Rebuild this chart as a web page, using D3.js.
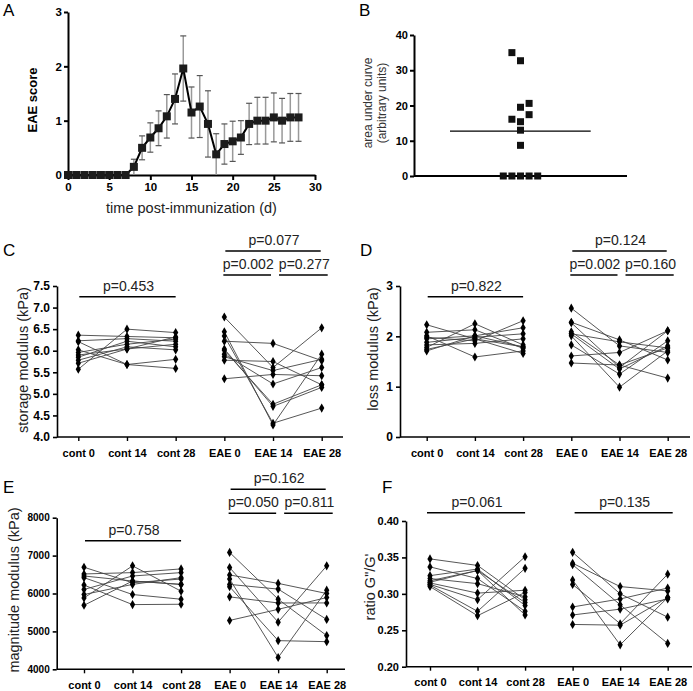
<!DOCTYPE html>
<html>
<head>
<meta charset="utf-8">
<script src="https://cdn.jsdelivr.net/npm/d3@7"></script>
<style>
  body { margin: 0; background: #fff; }
  text { font-family: "Liberation Sans", Arial, sans-serif; }
</style>
</head>
<body>
<svg id="fig" width="693" height="691"></svg>
<script>
// ---- panel A: clinical score over time ----
const days = [0,1,2,3,4,5,6,7,8,9,10,11,12,13,14,15,16,17,18,19,20,21,22,23,24,25,26,27,28]
const eaeScore = [0,0,0,0,0,0,0,0,0.15,0.50,0.69,0.86,1.08,1.40,1.96,1.15,1.26,0.94,0.38,0.57,0.62,0.69,0.94,1.00,1.00,1.06,1.00,1.06,1.06]
const eaeSem = [0,0,0,0,0,0,0,0,0.14,0.22,0.27,0.32,0.40,0.46,0.60,0.47,0.57,0.61,0.38,0.37,0.37,0.31,0.38,0.43,0.43,0.45,0.41,0.44,0.44]

// ---- panel B: area under curve, one value per mouse ----
const aucValues = [35.0,32.7,20.6,19.5,17.4,16.1,15.4,13.0,8.7,0,0,0,0,0]
const aucSlot = [-1,0,1,0,1,-1,0,0,0,-2,-1,0,1,2]

// ---- panels C-F: paired values per mouse (day 0, 14, 28) ----
const groups = ["cont 0","cont 14","cont 28","EAE 0","EAE 14","EAE 28"]

const storageCont = [[6.36,6.33,6.30],[5.57,6.50,6.42],[6.21,5.68,5.80],[6.02,5.68,5.59],[6.23,6.28,6.22],
                     [5.96,6.15,6.27],[5.90,6.04,6.15],[5.85,6.22,6.09],[5.78,6.09,6.02],[5.71,6.04,6.32]]
const storageEae = [[6.78,5.61,6.53],[6.22,6.17,5.77],[5.35,5.45,5.42],[6.44,4.28,5.92],[6.34,4.32,4.67],
                    [6.04,4.71,5.15],[6.01,4.76,5.21],[5.92,5.23,5.61],[5.86,5.54,5.80],[5.78,5.75,5.21]]
const storageP = ["p=0.453","p=0.077","p=0.002","p=0.277"]

const lossCont = [[2.23,1.95,1.79],[1.78,2.25,1.83],[2.01,1.59,1.71],[2.08,2.13,1.76],[1.98,1.91,2.31],
                  [1.95,2.01,2.17],[1.88,1.98,2.05],[1.83,1.86,1.95],[1.74,1.95,1.66],[1.71,2.01,1.79]]
const lossEae = [[2.56,1.81,1.68],[2.28,1.93,1.53],[2.27,1.38,2.11],[2.09,1.43,1.77],[2.05,1.35,1.81],
                 [2.01,0.99,1.71],[1.83,1.25,1.91],[1.61,1.68,2.11],[1.47,1.43,1.17],[2.05,1.89,1.77]]
const lossP = ["p=0.822","p=0.124","p=0.002","p=0.160"]

const magCont = [[6693,6284,6382],[6516,6551,6649],[6462,6329,6240],[6418,5973,5849],[6222,5707,5716],
                 [6107,6462,6551],[5973,6240,6418],[5884,6729,6062],[5689,6329,6240]]
const magEae = [[7084,5849,4889],[6684,5244,6729],[6489,6267,6000],[6382,4311,6089],[6240,6116,5316],
                [6178,4756,4729],[5911,5750,5751],[5289,5582,5893]]
const magP = ["p=0.758","p=0.162","p=0.050","p=0.811"]

const ratioCont = [[0.348,0.339,0.292],[0.337,0.321,0.276],[0.325,0.334,0.284],[0.321,0.314,0.296],[0.318,0.332,0.271],
                   [0.315,0.301,0.305],[0.313,0.292,0.351],[0.310,0.270,0.302],[0.312,0.276,0.335],[0.316,0.332,0.288]]
const ratioEae = [[0.357,0.300,0.268],[0.342,0.310,0.304],[0.340,0.285,0.232],[0.319,0.230,0.295],
                  [0.313,0.259,0.327],[0.282,0.293,0.308],[0.271,0.279,0.293],[0.258,0.257,0.295]]
const ratioP = ["p=0.061","p=0.135"]

const svg = d3.select("#fig")

function styleAxis(g, w) {
  g.selectAll("path, line").attr("stroke", "#000").attr("stroke-width", w)
}

function letter(txt, x, y) {
  svg.append("text").attr("x", x).attr("y", y).attr("font-size", 17).text(txt)
}

// ================= A =================
{
  let x = d3.scaleLinear().domain([0, 30]).range([68, 315])
  let y = d3.scaleLinear().domain([0, 3]).range([175, 12])
  let g = svg.append("g")

  g.append("g").attr("transform", "translate(0,175)")
    .call(d3.axisBottom(x).tickValues([0,5,10,15,20,25,30]).tickSize(5).tickPadding(3).tickSizeOuter(0))
    .call(a => styleAxis(a, 2))
    .selectAll("text").attr("font-size", 11.5).attr("font-weight", "bold").attr("fill", "#000")
  g.append("g").attr("transform", "translate(68,0)")
    .call(d3.axisLeft(y).ticks(3).tickSize(4).tickPadding(2).tickSizeOuter(0))
    .call(a => styleAxis(a, 2))
    .selectAll("text").attr("font-size", 11.5).attr("font-weight", "bold").attr("fill", "#000")

  let pts = days.map((d, i) => ({ d: d, v: eaeScore[i], e: eaeSem[i] }))
  let withErr = pts.filter(p => p.e > 0)

  // error bars
  g.selectAll(".eb").data(withErr).enter().append("line")
    .attr("x1", p => x(p.d)).attr("x2", p => x(p.d))
    .attr("y1", p => y(Math.max(0, p.v - p.e))).attr("y2", p => y(p.v + p.e))
    .attr("stroke", "#999").attr("stroke-width", 1.5)
  g.selectAll(".capT").data(withErr).enter().append("line")
    .attr("x1", p => x(p.d) - 3).attr("x2", p => x(p.d) + 3)
    .attr("y1", p => y(p.v + p.e)).attr("y2", p => y(p.v + p.e))
    .attr("stroke", "#555").attr("stroke-width", 1.2)
  g.selectAll(".capB").data(withErr.filter(p => p.v - p.e > 0.02)).enter().append("line")
    .attr("x1", p => x(p.d) - 3).attr("x2", p => x(p.d) + 3)
    .attr("y1", p => y(p.v - p.e)).attr("y2", p => y(p.v - p.e))
    .attr("stroke", "#555").attr("stroke-width", 1.2)

  g.append("path").datum(pts)
    .attr("d", d3.line().x(p => x(p.d)).y(p => y(p.v)))
    .attr("fill", "none").attr("stroke", "#000").attr("stroke-width", 2)

  g.selectAll(".sq").data(pts).enter().append("rect")
    .attr("x", p => x(p.d) - 4).attr("y", p => y(p.v) - 4)
    .attr("width", 8).attr("height", 8).attr("fill", "#1c1c1c")

  g.append("text").attr("transform", "translate(37,100) rotate(-90)")
    .attr("text-anchor", "middle").attr("font-size", 13).attr("font-weight", "bold")
    .text("EAE score")
  g.append("text").attr("x", 191.5).attr("y", 213).attr("text-anchor", "middle")
    .attr("font-size", 14.5).attr("fill", "#222").text("time post-immunization (d)")
  letter("A", 3, 16)
}

// ================= B =================
{
  let y = d3.scaleLinear().domain([0, 40]).range([176, 35])
  let x = d3.scaleLinear().domain([-2, 2]).range([503.3, 537.7])
  let g = svg.append("g")

  g.append("line").attr("x1", 414).attr("x2", 627).attr("y1", 176).attr("y2", 176)
    .attr("stroke", "#000").attr("stroke-width", 2)
  g.append("g").attr("transform", "translate(414,0)")
    .call(d3.axisLeft(y).tickValues([0,10,20,30,40]).tickSize(4).tickPadding(2).tickSizeOuter(0))
    .call(a => styleAxis(a, 2))
    .selectAll("text").attr("font-size", 11).attr("font-weight", "bold").attr("fill", "#000")

  let m = d3.mean(aucValues)
  g.append("line").attr("x1", 450).attr("x2", 590.7).attr("y1", y(m)).attr("y2", y(m))
    .attr("stroke", "#000").attr("stroke-width", 1.3)

  g.selectAll(".pt").data(aucValues).enter().append("rect")
    .attr("x", (v, i) => x(aucSlot[i]) - 3.5).attr("y", v => y(v) - 3.5)
    .attr("width", 7).attr("height", 7).attr("fill", "#111")

  g.append("text").attr("transform", "translate(372,103) rotate(-90)")
    .attr("text-anchor", "middle").attr("font-size", 12).attr("fill", "#333").text("area under curve")
  g.append("text").attr("transform", "translate(386,103) rotate(-90)")
    .attr("text-anchor", "middle").attr("font-size", 12).attr("fill", "#333").text("(arbitrary units)")
  letter("B", 359, 16)
}

// ================= C-F paired panels =================
function paired(cfg) {
  let g = svg.append("g")
  let y = d3.scaleLinear().domain(cfg.domain).range([cfg.bottom, cfg.top])
  let x = d3.scalePoint().domain(groups).range([cfg.cat0, cfg.cat5])

  // axes
  g.append("line").attr("x1", cfg.x0).attr("x2", cfg.right).attr("y1", cfg.bottom).attr("y2", cfg.bottom)
    .attr("stroke", "#000").attr("stroke-width", 1.6)
  let xa = g.append("g").attr("transform", "translate(0," + cfg.bottom + ")")
    .call(d3.axisBottom(x).tickSize(4).tickPadding(8).tickSizeOuter(0))
    .call(a => styleAxis(a, 1.4))
  xa.select(".domain").remove()
  xa.selectAll("text").attr("font-size", 11).attr("font-weight", "bold").attr("fill", "#000")

  g.append("g").attr("transform", "translate(" + cfg.x0 + ",0)")
    .call(d3.axisLeft(y).tickValues(cfg.ticks).tickFormat(d3.format(cfg.fmt)).tickSize(4).tickPadding(3).tickSizeOuter(0))
    .call(a => styleAxis(a, 1.6))
    .selectAll("text").attr("font-size", cfg.tickFont).attr("font-weight", "bold").attr("fill", "#000")

  // paired lines + points
  let sets = [[cfg.cont, 0], [cfg.eae, 3]]
  sets.forEach(([rows, off]) => {
    rows.forEach(r => {
      let pts = r.map((v, i) => [x(groups[off + i]), y(v)])
      g.append("path").attr("d", d3.line()(pts))
        .attr("fill", "none").attr("stroke", "#444").attr("stroke-width", 0.9)
    })
  })
  let sym = d3.symbol().type(d3.symbolDiamond).size(24)
  sets.forEach(([rows, off]) => {
    rows.forEach(r => {
      r.forEach((v, i) => {
        g.append("path").attr("d", sym)
          .attr("transform", "translate(" + x(groups[off + i]) + "," + y(v) + ")")
          .attr("fill", "#000")
      })
    })
  })

  // p-value brackets
  cfg.brackets.forEach((b, i) => {
    let x1 = x(groups[b.a]) + b.dx0, x2 = x(groups[b.b]) + b.dx1
    g.append("line").attr("x1", x1).attr("x2", x2).attr("y1", b.y).attr("y2", b.y)
      .attr("stroke", "#000").attr("stroke-width", 1.6)
    g.append("text").attr("x", (x1 + x2) / 2 + 1).attr("y", b.y - 6)
      .attr("text-anchor", "middle").attr("font-size", 14).attr("fill", "#222")
      .text(cfg.pvals[i])
  })

  g.append("text").attr("transform", "translate(" + cfg.labelX + "," + cfg.labelY + ") rotate(-90)")
    .attr("text-anchor", "middle").attr("dy", "0.35em").attr("font-size", 14.5).attr("fill", "#222")
    .text(cfg.label)
  letter(cfg.letter, cfg.letterX, cfg.letterY)
}

function fullBrackets(yCont, yTop, ySub) {
  return [
    { a: 0, b: 2, dx0: 1, dx1: 0, y: yCont },
    { a: 3, b: 5, dx0: 1, dx1: -1, y: yTop },
    { a: 3, b: 4, dx0: -1, dx1: -2, y: ySub },
    { a: 4, b: 5, dx0: 6, dx1: 6, y: ySub }
  ]
}

paired({
  cont: storageCont, eae: storageEae, pvals: storageP,
  x0: 57, right: 343, top: 286, bottom: 437, cat0: 78.3, cat5: 321.7,
  domain: [4, 7.5], ticks: [4,4.5,5,5.5,6,6.5,7,7.5], fmt: ".1f", tickFont: 12,
  label: "storage modulus (kPa)", labelX: 23, labelY: 360,
  letter: "C", letterX: 3, letterY: 256,
  brackets: fullBrackets(296.7, 251, 275)
})

paired({
  cont: lossCont, eae: lossEae, pvals: lossP,
  x0: 400, right: 690, top: 286, bottom: 437, cat0: 426.7, cat5: 667.7,
  domain: [0, 3], ticks: [0,1,2,3], fmt: "d", tickFont: 12,
  label: "loss modulus (kPa)", labelX: 373, labelY: 349,
  letter: "D", letterX: 360, letterY: 256,
  brackets: fullBrackets(296.7, 251, 275)
})

paired({
  cont: magCont, eae: magEae, pvals: magP,
  x0: 56.7, right: 345, top: 517.7, bottom: 669.3, cat0: 84, cat5: 326.7,
  domain: [4000, 8000], ticks: [4000,5000,6000,7000,8000], fmt: "d", tickFont: 10,
  label: "magnitude modulus (kPa)", labelX: 14, labelY: 590,
  letter: "E", letterX: 3, letterY: 493,
  brackets: fullBrackets(540.7, 489.3, 513.3)
})

paired({
  cont: ratioCont, eae: ratioEae, pvals: ratioP,
  x0: 406, right: 692, top: 521, bottom: 666.7, cat0: 430, cat5: 667.7,
  domain: [0.2, 0.4], ticks: [0.2,0.25,0.3,0.35,0.4], fmt: ".2f", tickFont: 11,
  label: "ratio G\"/G'", labelX: 370, labelY: 587,
  letter: "F", letterX: 382, letterY: 493,
  brackets: [
    { a: 0, b: 2, dx0: -3, dx1: 0, y: 512.7 },
    { a: 3, b: 5, dx0: 2, dx1: 5, y: 512.7 }
  ]
})
</script>
</body>
</html>
